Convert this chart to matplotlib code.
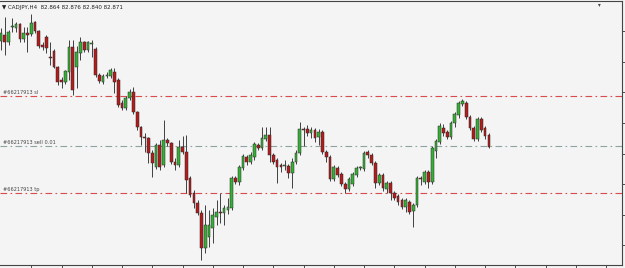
import matplotlib.pyplot as plt
import numpy as np

# CADJPY H4 candles
opens = [83.92, 83.98, 83.91, 84.06, 84.05, 84.09, 83.94, 84.00, 83.99, 84.11,
         84.02, 83.88, 83.96, 83.76, 83.82, 83.66, 83.53, 83.51, 83.61, 83.86,
         83.66, 83.80, 83.91, 83.83, 83.89, 83.84, 83.58, 83.51, 83.57, 83.57,
         83.61, 83.53, 83.30, 83.25, 83.35, 83.41, 83.21, 83.06, 82.96, 82.95,
         82.80, 82.66, 82.88, 82.68, 82.93, 82.90, 82.71, 82.68, 82.86, 82.81,
         82.55, 82.40, 82.30, 82.20, 81.85, 81.96, 82.05, 82.16, 82.21, 82.20,
         82.23, 82.25, 82.55, 82.51, 82.65, 82.76, 82.71, 82.76, 82.88, 82.85,
         82.94, 82.98, 82.78, 82.73, 82.68, 82.67, 82.67, 82.60, 82.71, 82.80,
         83.04, 83.04, 83.00, 83.03, 82.96, 83.01, 82.81, 82.76, 82.54, 82.65,
         82.59, 82.49, 82.44, 82.49, 82.58, 82.65, 82.64, 82.81, 82.78, 82.70,
         82.50, 82.58, 82.44, 82.50, 82.40, 82.37, 82.33, 82.26, 82.31, 82.22,
         82.28, 82.55, 82.51, 82.61, 82.51, 82.82, 82.91, 83.05, 83.01, 82.96,
         83.10, 83.18, 83.29, 83.30, 83.16, 83.05, 82.94, 83.14, 83.05, 82.98]
highs = [84.05, 84.16, 84.03, 84.15, 84.11, 84.10, 84.06, 84.06, 84.19, 84.12,
         84.03, 83.91, 83.98, 83.91, 83.84, 83.67, 83.56, 83.63, 83.93, 83.93,
         83.87, 83.96, 83.92, 83.92, 83.93, 83.86, 83.60, 83.59, 83.61, 83.65,
         83.65, 83.55, 83.33, 83.37, 83.44, 83.46, 83.22, 83.07, 83.00, 82.96,
         82.83, 82.90, 82.93, 83.13, 82.95, 82.91, 82.75, 82.93, 82.97, 82.98,
         82.57, 82.43, 82.33, 82.23, 82.28, 82.23, 82.25, 82.33, 82.40, 82.28,
         82.35, 82.57, 82.57, 82.68, 82.79, 82.78, 82.81, 82.91, 82.90, 83.06,
         83.06, 83.06, 82.80, 82.75, 82.70, 82.73, 82.69, 82.75, 82.83, 83.11,
         83.06, 83.08, 83.06, 83.05, 83.04, 83.03, 82.83, 82.78, 82.68, 82.67,
         82.61, 82.51, 82.56, 82.61, 82.67, 82.67, 82.82, 82.83, 82.80, 82.72,
         82.60, 82.60, 82.52, 82.52, 82.42, 82.39, 82.35, 82.35, 82.33, 82.30,
         82.57, 82.57, 82.63, 82.63, 82.87, 82.94, 83.10, 83.09, 83.03, 83.12,
         83.21, 83.32, 83.34, 83.32, 83.18, 83.07, 83.16, 83.16, 83.07, 83.00]
lows = [83.83, 83.78, 83.88, 84.01, 84.01, 83.91, 83.91, 83.81, 83.97, 84.00,
        83.85, 83.83, 83.80, 83.68, 83.65, 83.48, 83.45, 83.49, 83.53, 83.38,
        83.45, 83.73, 83.81, 83.81, 83.76, 83.56, 83.50, 83.49, 83.55, 83.55,
        83.40, 83.26, 83.23, 83.23, 83.33, 83.19, 83.03, 82.88, 82.81, 82.70,
        82.56, 82.64, 82.63, 82.66, 82.87, 82.69, 82.63, 82.66, 82.79, 82.40,
        82.36, 82.25, 82.18, 81.73, 81.80, 81.86, 81.90, 82.08, 82.10, 82.08,
        82.19, 82.23, 82.49, 82.48, 82.63, 82.68, 82.69, 82.73, 82.83, 82.83,
        82.92, 82.71, 82.69, 82.50, 82.61, 82.63, 82.55, 82.45, 82.69, 82.78,
        82.87, 82.97, 82.95, 82.91, 82.88, 82.79, 82.71, 82.52, 82.52, 82.56,
        82.47, 82.40, 82.42, 82.47, 82.56, 82.63, 82.62, 82.75, 82.68, 82.45,
        82.48, 82.42, 82.40, 82.33, 82.33, 82.28, 82.24, 82.21, 82.19, 82.06,
        82.26, 82.48, 82.49, 82.45, 82.49, 82.75, 82.89, 82.97, 82.94, 82.94,
        83.06, 83.15, 83.27, 83.14, 83.03, 82.92, 82.92, 83.01, 82.94, 82.85]
closes = [84.00, 83.91, 84.01, 84.07, 84.09, 83.94, 84.00, 83.98, 84.10, 84.02,
          83.87, 83.86, 83.85, 83.75, 83.66, 83.51, 83.51, 83.62, 83.86, 83.43,
          83.81, 83.91, 83.83, 83.91, 83.90, 83.58, 83.52, 83.57, 83.58, 83.63,
          83.51, 83.28, 83.25, 83.35, 83.41, 83.21, 83.06, 82.96, 82.95, 82.80,
          82.70, 82.88, 82.66, 82.93, 82.90, 82.71, 82.68, 82.86, 82.81, 82.53,
          82.38, 82.30, 82.20, 81.85, 82.08, 82.08, 82.18, 82.21, 82.20, 82.25,
          82.26, 82.55, 82.51, 82.66, 82.77, 82.71, 82.78, 82.89, 82.85, 82.95,
          82.98, 82.78, 82.71, 82.66, 82.66, 82.67, 82.60, 82.71, 82.80, 83.04,
          83.03, 83.00, 83.03, 82.95, 83.01, 82.81, 82.76, 82.54, 82.66, 82.58,
          82.49, 82.44, 82.54, 82.59, 82.65, 82.65, 82.80, 82.78, 82.70, 82.50,
          82.58, 82.45, 82.50, 82.40, 82.35, 82.31, 82.26, 82.33, 82.21, 82.28,
          82.55, 82.54, 82.61, 82.51, 82.85, 82.92, 83.07, 83.00, 82.96, 83.10,
          83.19, 83.30, 83.32, 83.16, 83.05, 82.94, 83.14, 83.03, 82.97, 82.86]

sl_price = 83.37
entry_price = 82.87
tp_price = 82.40
order_no = "#66217913"
title = "▼ CADJPY,H4  82.864 82.876 82.840 82.871"

fig = plt.figure(figsize=(6.25, 2.68), dpi=100, facecolor="#f4f4f4")
ax = fig.add_axes([0, 3 / 268, 622 / 625, 264 / 268])
ax.set_facecolor("#f4f4f4")

n = len(closes)
x = np.arange(n)
o = np.array(opens)
c = np.array(closes)
up = c >= o
# 봉 몸통 색
cols = np.where(up, "#35b035", "#b41c1c")

ax.vlines(x, lows, highs, color="#404040", linewidth=0.7, zorder=2)
ax.bar(x, np.maximum(np.abs(c - o), 0.01), bottom=np.minimum(o, c), width=0.72,
       color=cols, edgecolor="#2a2a2a", linewidth=0.35, zorder=3)

# 주문 라인들 (sl, 진입가, tp)
ax.axhline(sl_price, color="#d84c4c", linewidth=0.8, dashes=(6, 3, 1.5, 3), zorder=1)
ax.axhline(entry_price, color="#8ea2a2", linewidth=0.8, dashes=(6, 3, 1.5, 3), zorder=1)
ax.axhline(tp_price, color="#d84c4c", linewidth=0.8, dashes=(6, 3, 1.5, 3), zorder=1)
ax.text(0.6, sl_price + 0.01, order_no + " sl", fontsize=3.6, color="#444444", va="bottom")
ax.text(0.6, entry_price + 0.01, order_no + " sell 0.01", fontsize=3.6, color="#444444", va="bottom")
ax.text(0.6, tp_price + 0.01, order_no + " tp", fontsize=3.6, color="#444444", va="bottom")

ax.text(0.004, 0.985, title, transform=ax.transAxes, fontsize=4, color="#222222", va="top", ha="left")
ax.text(0.962, 0.995, "▾", transform=ax.transAxes, fontsize=4, color="#444444", va="top", ha="left")

ax.set_xlim(-0.265, 164.2)
ax.set_ylim(81.68, 84.32)

ax.yaxis.tick_right()
ax.set_yticks(np.arange(81.88, 84.1, 0.305))
ax.set_xticks(np.arange(8, 164, 8))
ax.tick_params(length=2, width=0.6, color="#333333", labelright=False, labelbottom=False, labelleft=False)
for s in ["top", "right", "bottom"]:
    ax.spines[s].set_color("#444444")
    ax.spines[s].set_linewidth(0.8)
ax.spines["left"].set_visible(False)

plt.savefig("out.png", dpi=100, facecolor=fig.get_facecolor())
